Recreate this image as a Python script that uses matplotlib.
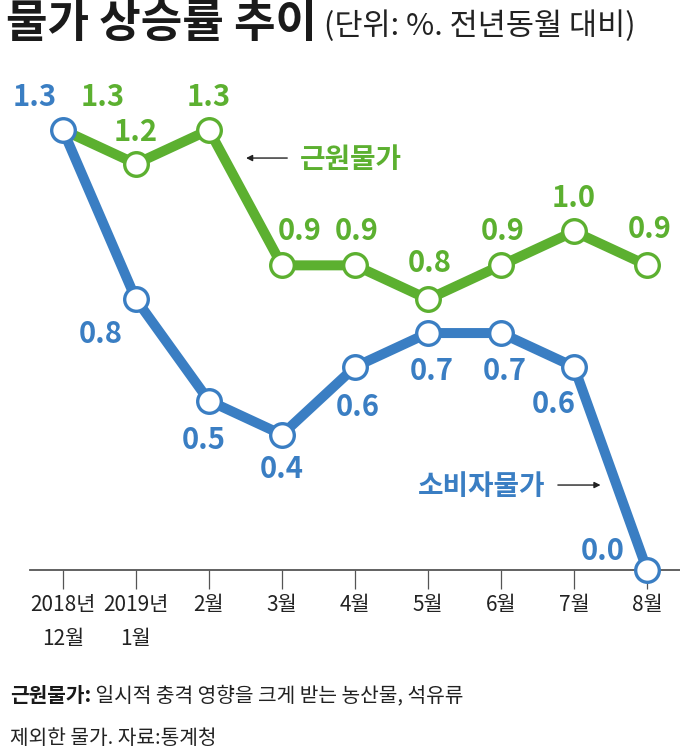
import matplotlib
matplotlib.use("Agg")
import matplotlib.pyplot as plt

plt.rcParams['font.family'] = ['Noto Sans CJK KR', 'DejaVu Sans']

# ---- data ----
categories = ["2018년\n12월", "2019년\n1월", "2월", "3월", "4월", "5월", "6월", "7월", "8월"]
core_cpi = [1.3, 1.2, 1.3, 0.9, 0.9, 0.8, 0.9, 1.0, 0.9]   # 근원물가 (first point hidden under CPI marker)
cpi = [1.3, 0.8, 0.5, 0.4, 0.6, 0.7, 0.7, 0.6, 0.0]        # 소비자물가
core_name = "근원물가"
cpi_name = "소비자물가"
title = "물가 상승률 추이"
subtitle = "(단위: %. 전년동월 대비)"
note_bold = "근원물가:"
note_rest = " 일시적 충격 영향을 크게 받는 농산물, 석유류"
note_line2 = "제외한 물가. 자료:통계청"

BLUE = "#3a7ec3"
GREEN = "#5cb030"

W, H = 680, 755
fig = plt.figure(figsize=(W / 100, H / 100), dpi=100)
ax = fig.add_axes([30 / W, (H - 570) / H, 650 / W, 0.6501])
ax.set_xlim(-0.45, 8.45)
ax.set_ylim(0, 1.45)

x = list(range(len(categories)))

# green line (core)
ax.plot(x, core_cpi, color=GREEN, lw=7.2, solid_joinstyle='round', zorder=2, clip_on=False)
ax.plot(x[1:], core_cpi[1:], ls='none', marker='o', ms=17, mfc='white', mec=GREEN, mew=2.4,
        zorder=3, clip_on=False)
# blue line (CPI)
ax.plot(x, cpi, color=BLUE, lw=7.2, solid_joinstyle='round', zorder=4, clip_on=False)
ax.plot(x, cpi, ls='none', marker='o', ms=17, mfc='white', mec=BLUE, mew=2.4,
        zorder=5, clip_on=False)

# value labels (offsets in points)
blue_off = [(-20, 24), (-25, -25), (-4, -28), (0, -25), (2, -29), (3, -27), (3, -27), (-15, -27), (-32, 14)]
green_off = [(29, 24), (0, 23), (0, 24), (13, 25), (1, 25), (1, 26), (1, 25), (0, 24), (2, 26)]
lab_kw = dict(ha='center', va='center', fontsize=21, fontweight='bold', textcoords='offset points',
              annotation_clip=False)
for i, v in enumerate(cpi):
    ax.annotate(f"{v:.1f}", (x[i], v), xytext=blue_off[i], color=BLUE, zorder=6, **lab_kw)
for i, v in enumerate(core_cpi):
    ax.annotate(f"{v:.1f}", (x[i], v), xytext=green_off[i], color=GREEN, zorder=6, **lab_kw)

# series names with arrows
ax.text(3.25, 1.21, core_name, color=GREEN, fontsize=20, fontweight='bold', ha='left', va='center')
ax.annotate("", xy=(2.47, 1.217), xytext=(3.11, 1.217),
            arrowprops=dict(arrowstyle='-|>', color='#222222', lw=1.0, mutation_scale=9))
ax.text(6.60, 0.245, cpi_name, color=BLUE, fontsize=20, fontweight='bold', ha='right', va='center')
ax.annotate("", xy=(7.40, 0.251), xytext=(6.74, 0.251),
            arrowprops=dict(arrowstyle='-|>', color='#222222', lw=1.0, mutation_scale=9))

# axes styling
for s in ['top', 'right', 'left']:
    ax.spines[s].set_visible(False)
ax.spines['bottom'].set_color('#555555')
ax.spines['bottom'].set_linewidth(1.3)
ax.set_yticks([])
ax.set_xticks(x)
ax.set_xticklabels(categories, fontsize=15, color='#222222', linespacing=1.7)
ax.tick_params(axis='x', direction='out', length=14, width=0.9, color='#555555', pad=3)

# title
fig.text(6 / W, 1 - 24 / H, title, fontsize=32.5, fontweight='bold', color='#1a1a1a', ha='left', va='center')
fig.text(324 / W, 1 - 26 / H, subtitle, fontsize=22, color='#222222', ha='left', va='center')

# footnote
t1 = fig.text(10 / W, 1 - 696 / H, note_bold, fontsize=14.6, fontweight='bold', color='#1a1a1a',
              ha='left', va='center')
fig.canvas.draw()
bb = t1.get_window_extent()
fig.text(bb.x1 / W, 1 - 696 / H, note_rest, fontsize=14.6, color='#222222', ha='left', va='center')
fig.text(10 / W, 1 - 738 / H, note_line2, fontsize=14.6, color='#222222', ha='left', va='center')

fig.savefig("out.png", dpi=100, facecolor='white')
